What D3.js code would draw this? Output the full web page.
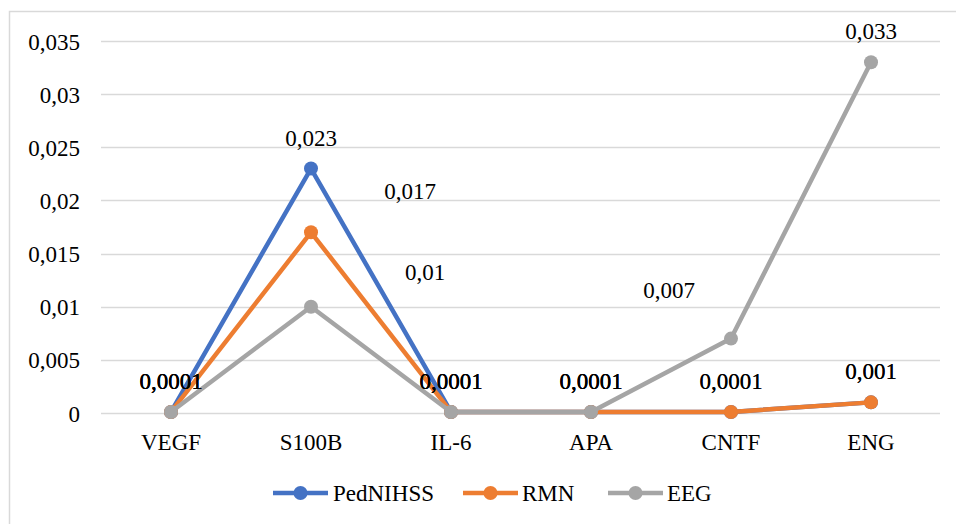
<!DOCTYPE html>
<html><head><meta charset="utf-8">
<script src="https://cdn.jsdelivr.net/npm/d3@7"></script>
<style>body{margin:0;background:#fff}svg{display:block}</style>
</head><body>
<script>
const categories = ["VEGF","S100B","IL-6","APA","CNTF","ENG"];
const seriesNames = ["PedNIHSS","RMN","EEG"];
const pedNIHSS = [0.0001,0.023,0.0001,0.0001,0.0001,0.001];
const rmn = [0.0001,0.017,0.0001,0.0001,0.0001,0.001];
const eeg = [0.0001,0.01,0.0001,0.0001,0.007,0.033];
const yTicks = [0,0.005,0.01,0.015,0.02,0.025,0.03,0.035];
const colors = ["#4472C4","#ED7D31","#A5A5A5"];
const labelShift = {"1-1":[99,-10],"2-1":[114,-4],"2-4":[-62,-18]};
const FONT = "'Liberation Serif', 'Times New Roman', Times, serif";

const W=956,H=524;
const svg=d3.select("body").append("svg").attr("width",W).attr("height",H)
  .attr("font-family",FONT);
svg.append("rect").attr("x",9.5).attr("y",11.5).attr("width",W+10).attr("height",H+10)
  .attr("fill","none").attr("stroke","#d9d9d9").attr("stroke-width",1.5);

const x=d3.scaleBand().domain(categories).range([101,941]);
const y=d3.scaleLinear().domain([0,0.035]).range([413,41]);
const fmt=v=>String(v).replace(".",",");

svg.append("g").selectAll("line").data(yTicks).join("line")
  .attr("x1",101).attr("x2",940).attr("y1",d=>Math.round(y(d))+0.5).attr("y2",d=>Math.round(y(d))+0.5)
  .attr("stroke","#d9d9d9").attr("stroke-width",1.5);

const ya=svg.append("g").attr("transform","translate(80,0)")
  .call(d3.axisLeft(y).tickValues(yTicks).tickSize(0).tickPadding(0).tickFormat(fmt));
ya.attr("font-family",FONT).attr("font-size",23);
ya.select(".domain").remove();
ya.selectAll("text").attr("dy","0.35em").attr("fill","#000");

const xa=svg.append("g").attr("transform","translate(0,442)")
  .call(d3.axisBottom(x).tickSize(0).tickPadding(0));
xa.attr("font-family",FONT).attr("font-size",23);
xa.select(".domain").remove();
xa.selectAll("text").attr("dy","0.35em").attr("fill","#000");

const data=[pedNIHSS,rmn,eeg];
const cx=c=>x(c)+x.bandwidth()/2;
const line=d3.line().x((d,i)=>cx(categories[i])).y(d=>y(d));

data.forEach((vals,s)=>{
  const g=svg.append("g");
  g.append("path").datum(vals).attr("d",line).attr("fill","none")
    .attr("stroke",colors[s]).attr("stroke-width",4.5).attr("stroke-linejoin","round");
  g.selectAll("circle").data(vals).join("circle")
    .attr("cx",(d,i)=>cx(categories[i])).attr("cy",d=>y(d)).attr("r",7).attr("fill",colors[s]);
});
data.forEach((vals,s)=>{
  svg.append("g").selectAll("text").data(vals).join("text")
    .attr("x",(d,i)=>cx(categories[i])+((labelShift[s+"-"+i]||[0,0])[0]))
    .attr("y",(d,i)=>y(d)-31+((labelShift[s+"-"+i]||[0,0])[1]))
    .attr("dy","0.35em").attr("text-anchor","middle").attr("font-size",23)
    .attr("font-family",FONT).attr("fill","#000")
    .text(d=>fmt(d));
});

const leg=[{x:273,tx:333},{x:463,tx:522},{x:608,tx:667}];
seriesNames.forEach((n,s)=>{
  const g=svg.append("g");
  g.append("line").attr("x1",leg[s].x).attr("x2",leg[s].x+55).attr("y1",493).attr("y2",493)
    .attr("stroke",colors[s]).attr("stroke-width",4.5);
  g.append("circle").attr("cx",leg[s].x+27.5).attr("cy",493).attr("r",7).attr("fill",colors[s]);
  g.append("text").attr("x",leg[s].tx).attr("y",493).attr("dy","0.35em").attr("font-size",23)
    .attr("font-family",FONT).attr("fill","#000").text(n);
});
</script>
</body></html>
